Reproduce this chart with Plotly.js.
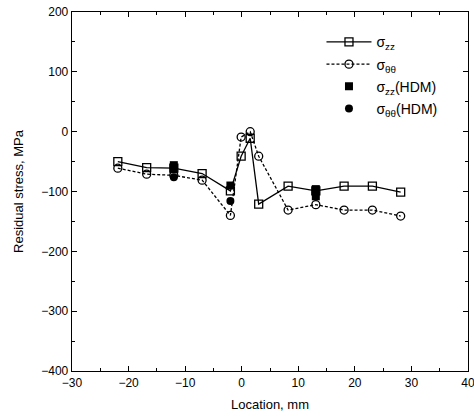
<!DOCTYPE html>
<html>
<head>
<meta charset="utf-8">
<script src="https://cdn.plot.ly/plotly-3.0.1.min.js"></script>
<style>html,body{margin:0;padding:0;background:#fff;}#chart{width:474px;height:417px;}</style>
</head>
<body>
<div id="chart"></div>
<script>
// Location, mm
const xLoc = [-21.9, -16.8, -12.0, -7.0, -2.0, -0.1, 1.5, 3.0, 8.2, 13.1, 18.1, 23.1, 28.1];
// sigma_zz, MPa
const szz = [-50, -60, -61, -70, -99, -41, -11, -121, -91, -99, -91, -91, -101];
// sigma_theta-theta, MPa
const stt = [-61, -71, -73, -81, -140, -9, 0, -41, -131, -122, -131, -131, -141];
// HDM measurements
const xHdmZZ = [-12.0, -12.0, -2.0, 13.1, 13.1];
const sHdmZZ = [-56, -63, -90, -96, -108];
const xHdmTT = [-12.0, -2.0];
const sHdmTT = [-76, -116];

const names = ['σ<sub>zz</sub>', 'σ<sub>θθ</sub>', 'σ<sub>zz</sub>(HDM)', 'σ<sub>θθ</sub>(HDM)'];

const traces = [
  {x: xLoc, y: szz, name: names[0], legendgroup: 'a', mode: 'lines+markers', type: 'scatter',
   line: {color: '#000', width: 1.3},
   marker: {symbol: 'square-open', size: 8, color: '#000', line: {width: 1.3, color: '#000'}}},
  {x: xLoc, y: stt, name: names[1], legendgroup: 'b', mode: 'lines+markers', type: 'scatter',
   line: {color: '#000', width: 1.3, dash: '3px,2px'},
   marker: {symbol: 'circle-open', size: 8, color: '#000', line: {width: 1.3, color: '#000'}}},
  {x: xHdmZZ, y: sHdmZZ, name: names[2], legendgroup: 'c', mode: 'markers', type: 'scatter',
   marker: {symbol: 'square', size: 8, color: '#000'}},
  {x: xHdmTT, y: sHdmTT, name: names[3], legendgroup: 'd', mode: 'markers', type: 'scatter',
   marker: {symbol: 'circle', size: 8, color: '#000'}}
];

const layout = {
  width: 474, height: 417,
  margin: {l: 72, r: 6, t: 12, b: 46},
  paper_bgcolor: '#fff', plot_bgcolor: '#fff',
  font: {family: 'Liberation Sans, Arial, sans-serif', color: '#000', size: 12},
  showlegend: true,
  legend: {x: 0.63, y: 0.96, xanchor: 'left', yanchor: 'top', bgcolor: 'rgba(0,0,0,0)',
           font: {size: 14}, tracegroupgap: 1, itemwidth: 45},
  xaxis: {
    range: [-30, 40], dtick: 10, tick0: -30,
    ticks: 'inside', ticklen: 5, tickwidth: 1, tickcolor: '#000',
    showline: true, linecolor: '#000', linewidth: 1.3, mirror: 'ticks',
    showgrid: false, zeroline: false, ticklabeloverflow: 'allow',
    minor: {dtick: 5, ticks: 'inside', ticklen: 3, tickcolor: '#000'},
    tickfont: {size: 12},
    title: {text: 'Location, mm', font: {size: 13}, standoff: 11}
  },
  yaxis: {
    range: [-400, 200], dtick: 100,
    ticks: 'inside', ticklen: 5, tickwidth: 1, tickcolor: '#000',
    showline: true, linecolor: '#000', linewidth: 1.3, mirror: 'ticks',
    showgrid: false, zeroline: false, ticklabeloverflow: 'allow',
    minor: {dtick: 50, ticks: 'inside', ticklen: 3, tickcolor: '#000'},
    tickfont: {size: 12},
    title: {text: 'Residual stress, MPa', font: {size: 13}, standoff: 14}
  }
};

Plotly.newPlot('chart', traces, layout, {staticPlot: true, displayModeBar: false});
</script>
</body>
</html>
